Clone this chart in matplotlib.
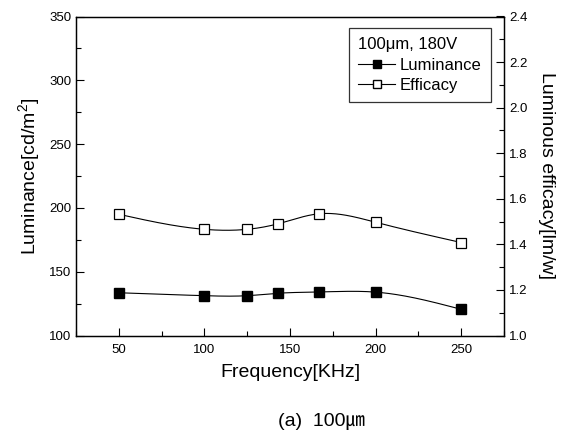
import numpy as np
import matplotlib
matplotlib.use("Agg")
import matplotlib.pyplot as plt
from matplotlib.ticker import MultipleLocator
from matplotlib.lines import Line2D

plt.rcParams['font.family'] = ['Liberation Sans', 'Noto Sans CJK KR', 'DejaVu Sans']
plt.rcParams['mathtext.fontset'] = 'custom'
plt.rcParams['mathtext.rm'] = 'Liberation Sans'

freq = [50, 100, 125, 142.9, 166.7, 200, 250]
luminance = [133.5, 131.2, 131.2, 133.1, 134.1, 134.0, 120.5]
efficacy = [1.532, 1.466, 1.466, 1.490, 1.534, 1.497, 1.408]


def natural_spline(x, y, n=400):
    x = np.asarray(x, float)
    y = np.asarray(y, float)
    k = len(x)
    h = np.diff(x)
    A = np.zeros((k, k))
    b = np.zeros(k)
    A[0, 0] = 1
    A[-1, -1] = 1
    for i in range(1, k - 1):
        A[i, i - 1] = h[i - 1]
        A[i, i] = 2 * (h[i - 1] + h[i])
        A[i, i + 1] = h[i]
        b[i] = 3 * ((y[i + 1] - y[i]) / h[i] - (y[i] - y[i - 1]) / h[i - 1])
    c = np.linalg.solve(A, b)
    xs = np.linspace(x[0], x[-1], n)
    ys = np.empty_like(xs)
    for j, xv in enumerate(xs):
        i = min(np.searchsorted(x, xv, side='right') - 1, k - 2)
        dx = xv - x[i]
        bi = (y[i + 1] - y[i]) / h[i] - h[i] * (2 * c[i] + c[i + 1]) / 3
        di = (c[i + 1] - c[i]) / (3 * h[i])
        ys[j] = y[i] + bi * dx + c[i] * dx ** 2 + di * dx ** 3
    return xs, ys


fig = plt.figure(figsize=(5.65, 4.32), dpi=100)
ax = fig.add_axes([76 / 565, 1 - 335.5 / 432, (504 - 76) / 565, (335.5 - 16.5) / 432])
ax2 = ax.twinx()

xs, ys = natural_spline(freq, luminance)
ax.plot(xs, ys, color='black', lw=0.8)
ax.plot(freq, luminance, 's', color='black', ms=7, mfc='black', mec='black', zorder=3)

xs2, ys2 = natural_spline(freq, efficacy)
ax2.plot(xs2, ys2, color='black', lw=0.8)
ax2.plot(freq, efficacy, 's', color='black', ms=7, mfc='white', mec='black', mew=0.9, zorder=3)

ax.set_xlim(25, 275)
ax.set_ylim(100, 350)
ax2.set_ylim(1.0, 2.4)

ax.xaxis.set_major_locator(MultipleLocator(50))
ax.xaxis.set_minor_locator(MultipleLocator(25))
ax.yaxis.set_major_locator(MultipleLocator(50))
ax.yaxis.set_minor_locator(MultipleLocator(25))
ax2.yaxis.set_major_locator(MultipleLocator(0.2))
ax2.yaxis.set_minor_locator(MultipleLocator(0.1))
ax2.yaxis.set_major_formatter(matplotlib.ticker.FormatStrFormatter('%.1f'))

for a in (ax, ax2):
    a.tick_params(which='major', direction='in', length=6, width=0.8, labelsize=9.5)
    a.tick_params(which='minor', direction='in', length=3.5, width=0.8)
    for s in a.spines.values():
        s.set_linewidth(0.9)
ax.tick_params(axis='x', which='both', top=False)
ax.tick_params(axis='y', which='both', right=False)
ax.tick_params(axis='x', pad=6)

ax.set_xlabel('Frequency[KHz]', fontsize=14, labelpad=6)
ax.set_ylabel('Luminance[cd/m$^2$]', fontsize=14, labelpad=4)
ax2.set_ylabel('Luminous efficacy[lm/w]', fontsize=14, rotation=270, labelpad=20)

handles = [
    Line2D([], [], color='black', lw=0.8, marker='s', ms=5.5, mfc='black', mec='black'),
    Line2D([], [], color='black', lw=0.8, marker='s', ms=5.5, mfc='white', mec='black'),
]
leg = ax.legend(handles, ['Luminance', 'Efficacy'], title='100\u03bcm, 180V',
                loc='upper left', bbox_to_anchor=((349 - 76) / 428, 1 - (28 - 16.5) / 319),
                fontsize=12, title_fontsize=12, frameon=True, fancybox=False,
                edgecolor='black', handlelength=2.2, handletextpad=0.3,
                borderpad=0.55, labelspacing=0.32, borderaxespad=0)
leg._legend_box.align = 'left'
leg.get_frame().set_linewidth(0.9)

fig.text(322 / 565, 1 - 422 / 432, '(a)  100\u339b', fontsize=14, ha='center', va='center')

fig.savefig('out.png', dpi=100)
